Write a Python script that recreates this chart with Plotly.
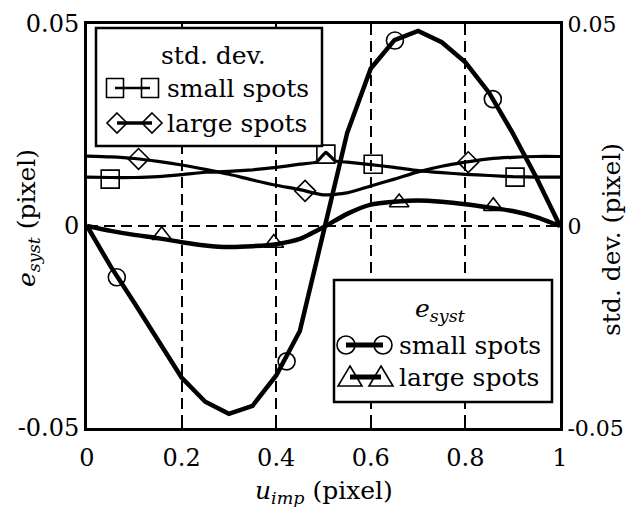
import plotly.graph_objects as go

# ---------------- data ----------------
x_grid = [0, 0.05, 0.1, 0.15, 0.2, 0.25, 0.3, 0.35, 0.4, 0.45, 0.5,
          0.55, 0.6, 0.65, 0.7, 0.75, 0.8, 0.85, 0.9, 0.95, 1]
esyst_small = [0, -0.010, -0.019, -0.028, -0.0375, -0.0435, -0.0465, -0.0445, -0.037, -0.026, -0.002,
               0.023, 0.039, 0.046, 0.0483, 0.0455, 0.0405, 0.033, 0.023, 0.012, 0]
esyst_large = [0, -0.0012, -0.0022, -0.003, -0.004, -0.0048, -0.0052, -0.005, -0.0045, -0.0032, -0.0003,
               0.003, 0.0053, 0.006, 0.0063, 0.006, 0.0054, 0.0046, 0.0037, 0.0022, 0]

std_small_x = [0, 0.05, 0.1, 0.15, 0.2, 0.25, 0.3, 0.35, 0.4, 0.45, 0.485, 0.505, 0.525,
               0.55, 0.6, 0.65, 0.7, 0.75, 0.8, 0.85, 0.9, 0.95, 1]
std_small = [0.0121, 0.012, 0.012, 0.0122, 0.0127, 0.0133, 0.0135, 0.0139, 0.0145, 0.0153, 0.0158, 0.0182, 0.0161,
             0.0158, 0.0152, 0.0145, 0.0137, 0.0132, 0.0128, 0.0125, 0.0122, 0.0121, 0.0121]
std_large_x = x_grid
std_large = [0.0173, 0.0171, 0.0167, 0.016, 0.0151, 0.014, 0.0128, 0.0114, 0.0101, 0.009, 0.0077,
             0.0082, 0.0099, 0.0116, 0.0134, 0.0148, 0.0158, 0.0166, 0.017, 0.0172, 0.0172]

circ_x = [0.063, 0.422, 0.651, 0.858]
circ_y = [-0.0127, -0.0335, 0.0459, 0.0314]
tri_x = [0.158, 0.395, 0.66, 0.859]
tri_y = [-0.0023, -0.0042, 0.0058, 0.0049]
sq_x = [0.049, 0.505, 0.605, 0.905]
sq_y = [0.0116, 0.0178, 0.0153, 0.0121]
dia_x = [0.109, 0.461, 0.806]
dia_y = [0.0166, 0.0087, 0.0158]

x_ticks = [0, 0.2, 0.4, 0.6, 0.8, 1]
x_ticktext = ["0", "0.2", "0.4", "0.6", "0.8", "1"]
y_ticks = [-0.05, 0, 0.05]
y_ticktext = ["-0.05", "0", "0.05"]

# ---------------- layout geometry (window pixels) ----------------
VW, VH = 635, 515          # browser window
OFF = 8                    # page body margin
W, H = VW - 2 * OFF, VH - 2 * OFF  # figure size (fits without overflow)
L, R, T, B = 87, 560, 24, 428   # plot frame in window pixels
FONT = "DejaVu Serif, Liberation Serif, serif"
FS = 24


def px(x):
    return (x - L) / (R - L)


def py(y):
    return (B - y) / (B - T)


fig = go.Figure()

# curves
fig.add_trace(go.Scatter(x=x_grid, y=esyst_small, mode="lines",
                         line=dict(color="black", width=4.5), yaxis="y"))
fig.add_trace(go.Scatter(x=x_grid, y=esyst_large, mode="lines",
                         line=dict(color="black", width=4.5, shape="spline", smoothing=0.6), yaxis="y"))
fig.add_trace(go.Scatter(x=std_small_x, y=std_small, mode="lines",
                         line=dict(color="black", width=3.2, shape="spline", smoothing=0.4), yaxis="y2"))
fig.add_trace(go.Scatter(x=std_large_x, y=std_large, mode="lines",
                         line=dict(color="black", width=3.2, shape="spline", smoothing=0.6), yaxis="y2"))

# markers
mk = dict(color="black", line=dict(color="black", width=1.6))
fig.add_trace(go.Scatter(x=circ_x, y=circ_y, mode="markers", yaxis="y",
                         marker=dict(symbol="circle-open", size=17, **mk)))
fig.add_trace(go.Scatter(x=tri_x, y=tri_y, mode="markers", yaxis="y",
                         marker=dict(symbol="triangle-up-open", size=17, **mk)))
fig.add_trace(go.Scatter(x=sq_x, y=sq_y, mode="markers", yaxis="y2",
                         marker=dict(symbol="square-open", size=18, **mk)))
fig.add_trace(go.Scatter(x=dia_x, y=dia_y, mode="markers", yaxis="y2",
                         marker=dict(symbol="diamond-open", size=16, **mk)))

# ---------------- custom legends ----------------
shapes = []
annots = []


def rect(x0, y0, x1, y1, width=2.5, fill="white"):
    shapes.append(dict(type="rect", xref="paper", yref="paper", layer="above",
                       x0=px(x0), x1=px(x1), y0=py(y1), y1=py(y0),
                       line=dict(color="black", width=width), fillcolor=fill))


def seg(x0, x1, y, width):
    shapes.append(dict(type="line", xref="paper", yref="paper", layer="above",
                       x0=px(x0), x1=px(x1), y0=py(y), y1=py(y),
                       line=dict(color="black", width=width)))


def circle(cx, cy, r):
    shapes.append(dict(type="circle", xref="paper", yref="paper", layer="above",
                       x0=px(cx - r), x1=px(cx + r), y0=py(cy + r), y1=py(cy - r),
                       line=dict(color="black", width=1.6), fillcolor="rgba(0,0,0,0)"))


def square(cx, cy, hw, hh):
    shapes.append(dict(type="rect", xref="paper", yref="paper", layer="above",
                       x0=px(cx - hw), x1=px(cx + hw), y0=py(cy + hh), y1=py(cy - hh),
                       line=dict(color="black", width=1.6), fillcolor="rgba(0,0,0,0)"))


def poly(points):
    d = "M " + " L ".join(f"{px(a):.5f},{py(b):.5f}" for a, b in points) + " Z"
    shapes.append(dict(type="path", xref="paper", yref="paper", layer="above", path=d,
                       line=dict(color="black", width=1.6), fillcolor="rgba(0,0,0,0)"))


def text(x, y, s, xanchor="left", size=FS + 1):
    annots.append(dict(xref="paper", yref="paper", x=px(x), y=py(y), text=s, showarrow=False,
                       xanchor=xanchor, yanchor="middle",
                       font=dict(family=FONT, size=size, color="black")))


# std. dev. legend (top-left)
rect(96, 28, 322, 146)
text(213, 56, "std. dev.", xanchor="center")
seg(115, 150, 88, 2.5)
square(115, 88, 8.5, 9.5)
square(150, 88, 8.5, 9.5)
text(165, 88, "small spots")
seg(117, 152, 123, 3.5)
poly([(117, 113), (127, 123), (117, 133), (107, 123)])
poly([(152, 113), (162, 123), (152, 133), (142, 123)])
text(165, 123, "large spots")

# e_syst legend (bottom-right)
rect(334, 280, 552, 402)
text(440, 310, "<i>e</i><sub><i>syst</i></sub>", xanchor="center")
seg(346, 383, 345, 5)
circle(346, 345, 9)
circle(383, 345, 9)
text(397, 345, "small spots")
seg(350, 381, 377, 5)
poly([(350, 366), (362, 386), (338, 386)])
poly([(381, 366), (393, 386), (369, 386)])
text(397, 377, "large spots")

# axis titles
text(28, 218, "<i>e</i><sub><i>syst</i></sub> (pixel)", xanchor="center", size=FS + 1)
annots[-1]["textangle"] = -90
text(611, 240, "std. dev. (pixel)", xanchor="center", size=FS + 1)
annots[-1]["textangle"] = -90
text(324, 492, "<i>u</i><sub><i>imp</i></sub> (pixel)", xanchor="center", size=FS + 1)

tickfont = dict(family=FONT, size=FS, color="black")
axis_common = dict(showline=True, linecolor="black", linewidth=3, mirror=True,
                   ticks="inside", ticklen=7, tickwidth=1.5, tickcolor="black",
                   showgrid=True, gridcolor="black", gridwidth=1.5, griddash="11px,6px",
                   zeroline=False, automargin=False, tickfont=tickfont)

fig.update_layout(
    width=W, height=H,
    margin=dict(l=L - OFF, r=(OFF + W) - R, t=T - OFF, b=(OFF + H) - B, pad=0),
    paper_bgcolor="white", plot_bgcolor="white",
    showlegend=False,
    font=dict(family=FONT),
    xaxis=dict(range=[0, 1], tickvals=x_ticks, ticktext=x_ticktext,
               ticklabelstandoff=6, **axis_common),
    yaxis=dict(range=[-0.05, 0.05], tickvals=y_ticks, ticktext=y_ticktext,
               ticklabelstandoff=0, **axis_common),
    yaxis2=dict(range=[-0.05, 0.05], tickvals=y_ticks, ticktext=y_ticktext,
                overlaying="y", side="right", showline=True, linecolor="black", linewidth=3,
                ticks="inside", ticklen=7, tickwidth=1.5, tickcolor="black",
                showgrid=False, zeroline=False, ticklabelstandoff=0, automargin=False,
                tickfont=dict(family=FONT, size=FS - 2, color="black")),
    shapes=shapes,
    annotations=annots,
)

fig.write_html("out.html")
